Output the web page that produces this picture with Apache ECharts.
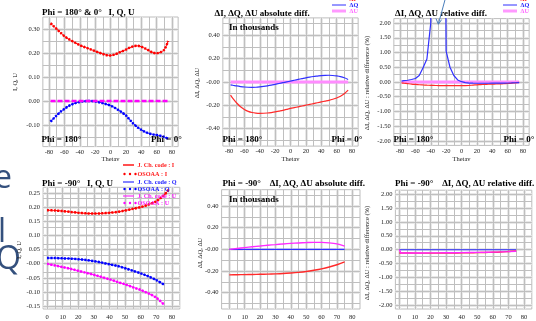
<!DOCTYPE html>
<html><head><meta charset="utf-8">
<script src="https://cdn.jsdelivr.net/npm/echarts@6/dist/echarts.min.js"></script>
<style>html,body{margin:0;padding:0;background:#fff;overflow:hidden}#c{width:536px;height:321px}</style>
</head><body><div id="c"></div>
<script>
// ---------- DATA ----------
// Phi = 180 & 0 (top row), thetav in degrees
const thetaTop = [-78,-75,-70,-65,-60,-55,-50,-45,-40,-35,-30,-25,-20,-15,-10,-5,0,5,10,15,20,25,30,35,40,45,50,55,60,65,70,75];
const I_top = [0.324,0.315,0.300,0.285,0.270,0.259,0.250,0.241,0.233,0.226,0.220,0.214,0.208,0.202,0.196,0.191,0.190,0.193,0.200,0.207,0.214,0.222,0.228,0.230,0.226,0.219,0.210,0.202,0.199,0.203,0.214,0.250];
const Q_top = [-0.086,-0.076,-0.060,-0.045,-0.033,-0.022,-0.014,-0.008,-0.004,-0.001,0.000,0.000,-0.002,-0.005,-0.009,-0.014,-0.019,-0.027,-0.037,-0.048,-0.060,-0.078,-0.095,-0.109,-0.120,-0.129,-0.135,-0.139,-0.142,-0.145,-0.150,-0.157];
const U_top = [0,0,0,0,0,0,0,0,0,0,0,0,0,0,0,0,0,0,0,0,0,0,0,0,0,0,0,0,0,0,0,0];
// absolute differences (in thousands)
const dI_top = [-0.112,-0.140,-0.180,-0.212,-0.235,-0.252,-0.262,-0.267,-0.269,-0.268,-0.266,-0.262,-0.257,-0.250,-0.243,-0.235,-0.227,-0.220,-0.213,-0.206,-0.199,-0.192,-0.185,-0.178,-0.171,-0.164,-0.157,-0.148,-0.137,-0.122,-0.100,-0.070];
const dQ_top = [-0.025,-0.028,-0.034,-0.039,-0.043,-0.045,-0.046,-0.045,-0.042,-0.038,-0.033,-0.027,-0.020,-0.013,-0.006,0.001,0.008,0.015,0.022,0.029,0.036,0.042,0.047,0.051,0.055,0.057,0.058,0.056,0.052,0.046,0.036,0.022];
const dU_top = [0,0,0,0,0,0,0,0,0,0,0,0,0,0,0,0,0,0,0,0,0,0,0,0,0,0,0,0,0,0,0,0];
// relative differences (%)
const rI_top = [-0.030,-0.040,-0.055,-0.070,-0.082,-0.093,-0.101,-0.108,-0.113,-0.117,-0.120,-0.122,-0.124,-0.125,-0.126,-0.126,-0.125,-0.121,-0.114,-0.105,-0.096,-0.088,-0.081,-0.076,-0.072,-0.068,-0.064,-0.058,-0.050,-0.040,-0.028,-0.015];
const rQ_top = [0.030,0.045,0.060,0.085,0.120,0.220,0.480,0.780,2.000,20.0,60.0,20.0,1.050,0.500,0.220,0.070,0.010,-0.020,-0.035,-0.040,-0.042,-0.043,-0.043,-0.042,-0.041,-0.040,-0.038,-0.036,-0.034,-0.030,-0.025,-0.020];
const rU_top = [0,0,0,0,0,0,0,0,0,0,0,0,0,0,0,0,0,0,0,0,0,0,0,0,0,0,0,0,0,0,0,0];

// Phi = -90 (bottom row)
const thetaBotI = [0,5,10,15,20,25,30,35,40,45,50,55,60,65,70,75,78];
const I_bot = [0.189,0.188,0.186,0.183,0.180,0.178,0.177,0.178,0.180,0.183,0.188,0.194,0.200,0.209,0.221,0.243,0.262];
const thetaBot = [0,5,10,15,20,25,30,35,40,45,50,55,60,65,70,75];
const Q_bot = [0.020,0.020,0.019,0.018,0.016,0.013,0.009,0.004,-0.002,-0.008,-0.016,-0.025,-0.034,-0.045,-0.058,-0.074];
const U_bot = [0.000,-0.006,-0.012,-0.018,-0.025,-0.032,-0.039,-0.047,-0.055,-0.064,-0.073,-0.083,-0.093,-0.105,-0.120,-0.145];
const dI_bot = [-0.235,-0.234,-0.233,-0.232,-0.230,-0.228,-0.226,-0.223,-0.218,-0.212,-0.204,-0.193,-0.180,-0.163,-0.142,-0.115];
const dQ_bot = [0,0,0,0,0,0,0,0,0,0,0,0,0,0,0,0];
const dU_bot = [0.000,0.008,0.016,0.024,0.031,0.038,0.044,0.050,0.055,0.059,0.062,0.064,0.064,0.060,0.050,0.030];
const rI_bot = [-0.125,-0.125,-0.126,-0.127,-0.127,-0.126,-0.125,-0.123,-0.120,-0.116,-0.111,-0.104,-0.096,-0.085,-0.068,-0.050];
const rQ_bot = [-0.005,-0.005,-0.005,-0.006,-0.006,-0.006,-0.006,-0.006,-0.006,-0.006,-0.006,-0.006,-0.005,-0.005,-0.005,-0.005];
const thetaBotU = [0,1,5,10,15,20,25,30,35,40,45,50,55,60,65,70,75];
const rU_bot = [0.000,-0.125,-0.124,-0.123,-0.122,-0.120,-0.118,-0.116,-0.113,-0.110,-0.106,-0.102,-0.097,-0.091,-0.084,-0.075,-0.062];

// tick / gridline values
const gxTopMajor = [-80,-60,-40,-20,0,20,40,60,80];
const gxTopMinor = [-70,-50,-30,-10,10,30,50,70];
const gxBotMajor = [0,10,20,30,40,50,60,70,80];
const gxBotMinor = [5,15,25,35,45,55,65,75];
const gyP1Major = [-0.1,0,0.1,0.2,0.3];
const gyP1Minor = [-0.15,-0.05,0.05,0.15,0.25];
const gyAbsMajor = [-0.4,-0.2,0,0.2,0.4];
const gyAbsMinor = [-0.5,-0.3,-0.1,0.1,0.3,0.5];
const gyRelMajor = [-2,-1.5,-1,-0.5,0,0.5,1,1.5,2];
const gyRelMinor = [-1.75,-1.25,-0.75,-0.25,0.25,0.75,1.25,1.75];
const gyP4Major = [-0.15,-0.1,-0.05,0,0.05,0.1,0.15,0.2,0.25];
const gyP4Minor = [-0.125,-0.075,-0.025,0.025,0.075,0.125,0.175,0.225];

// ---------- CHART ----------
const SERIF = '"Liberation Serif","Times New Roman",serif';
const chart = echarts.init(document.getElementById('c'), null, {renderer:'canvas'});
const pairs = (xs, ys) => xs.map((x, i) => [x, ys[i]]);

const grids = [
  {left:42.85, top:17,    width:135.3, height:129.6},
  {left:222.85,top:17.9,  width:135.3, height:128.2},
  {left:393.85,top:18.6,  width:135.3, height:126.8},
  {left:43.1,  top:187.3, width:136.7, height:129},
  {left:221.6, top:189.7, width:138.4, height:127.6},
  {left:395.4, top:190.2, width:136.4, height:125.6}
].map(g => Object.assign({show:true, borderColor:'#bdbdbd', borderWidth:1, backgroundColor:'#fff'}, g));

const lblStyle = {fontSize:6.5, fontFamily:SERIF, color:'#222'};
function xTop(i){ return {gridIndex:i, type:'value', min:-88, max:88, interval:2,
  axisLine:{show:false}, axisTick:{show:false}, splitLine:{show:false},
  axisLabel:Object.assign({margin:2, formatter:v=>{const r=Math.round(v);return (r%20===0&&Math.abs(r)<=80)?String(r):'';}}, lblStyle)}; }
function xBot(i, mn){ return {gridIndex:i, type:'value', min:mn, max:85, interval:2.5,
  axisLine:{show:false}, axisTick:{show:false}, splitLine:{show:false},
  axisLabel:Object.assign({margin:5, formatter:v=>{const r=Math.round(v*10);return (r%100===0&&r>=0&&r<=800)?String(r/10):'';}}, lblStyle)}; }
function yAx(i, mn, mx, itv, step, lo, hi, zero){ return {gridIndex:i, type:'value', min:mn, max:mx, interval:itv,
  axisLine:{show:false}, axisTick:{show:false}, splitLine:{show:false},
  axisLabel:Object.assign({margin:3, formatter:v=>{const r=Math.round(v*100);
    if(r%step!==0||r<lo||r>hi) return ''; return r===0?zero:(r/100).toFixed(2);}}, lblStyle)}; }

const xAxis = [xTop(0), xTop(1), xTop(2), xBot(3,-2.5), xBot(4,-5), xBot(5,-2.5)];
const yAxis = [
  yAx(0,-0.19,0.35,0.01,10,-10,30,'0.00'),
  yAx(1,-0.55,0.55,0.01,20,-40,40,'-0.00'),
  yAx(2,-2.15,2.15,0.05,50,-200,200,'0.00'),
  yAx(3,-0.16,0.27,0.01,5,-15,25,'-0.00'),
  yAx(4,-0.55,0.55,0.01,20,-40,40,'-0.00'),
  yAx(5,-2.15,2.15,0.05,50,-200,200,'0.00')
];

function gridSeries(i, xMaj, xMin, yMaj, yMin){
  const band = {color:'#e8e8e8', width:3, type:'solid'};
  const thin = {color:'#bfbfbf', width:1, type:'solid'};
  const d = [];
  xMaj.forEach(v=>d.push({xAxis:v, lineStyle:band}));
  yMaj.forEach(v=>d.push({yAxis:v, lineStyle:band}));
  xMaj.concat(xMin).forEach(v=>d.push({xAxis:v, lineStyle:thin}));
  yMaj.concat(yMin).forEach(v=>d.push({yAxis:v, lineStyle:thin}));
  return {type:'line', xAxisIndex:i, yAxisIndex:i, data:[], silent:true, z:1, animation:false,
    markLine:{silent:true, z:1, symbol:['none','none'], animation:false, label:{show:false},
      emphasis:{disabled:true}, data:d}};
}
function ln(i, xs, ys, color, width, type, smooth, z){
  return {type:'line', xAxisIndex:i, yAxisIndex:i, data:pairs(xs, ys), symbol:'none', showSymbol:false,
    smooth:smooth, silent:true, animation:false, z:z||3,
    lineStyle:{color:color, width:width, type:type||'solid', cap:'butt'}};
}
const DOT = [2,1.4], DASH = [5,2];
const RED='#ff0000', BLUE='#0000ff', MAG='#ff00ff';

const series = [
  gridSeries(0, gxTopMajor, gxTopMinor, gyP1Major, gyP1Minor),
  gridSeries(1, gxTopMajor, gxTopMinor, gyAbsMajor, gyAbsMinor),
  gridSeries(2, gxTopMajor, gxTopMinor, gyRelMajor, gyRelMinor),
  gridSeries(3, gxBotMajor, gxBotMinor, gyP4Major, gyP4Minor),
  gridSeries(4, gxBotMajor, gxBotMinor, gyAbsMajor, gyAbsMinor),
  gridSeries(5, gxBotMajor, gxBotMinor, gyRelMajor, gyRelMinor),
  // P1 : J. Ch. code (line) + OSOAA (dots)
  ln(0, thetaTop, I_top, RED, 1, 'solid', 0.3),
  ln(0, thetaTop, I_top, RED, 2.5, DOT, 0.3, 4),
  ln(0, thetaTop, Q_top, BLUE, 1, 'solid', 0.3),
  ln(0, thetaTop, Q_top, BLUE, 2.5, DOT, 0.3, 4),
  ln(0, thetaTop, U_top, MAG, 2.5, DASH, false, 4),
  // P2 absolute diff
  ln(1, thetaTop, dU_top, '#ff8cff', 3, 'solid', false),
  ln(1, thetaTop, dQ_top, '#3030ff', 1.2, 'solid', 0.3, 4),
  ln(1, thetaTop, dI_top, '#ff2a2a', 1.2, 'solid', 0.3, 4),
  // P3 relative diff
  ln(2, thetaTop, rU_top, '#ff8cff', 3, 'solid', false),
  ln(2, thetaTop, rI_top, '#ff2a2a', 1.2, 'solid', 0.3, 4),
  ln(2, thetaTop, rQ_top, '#3030ff', 1.2, 'solid', false, 4),
  // P4 Phi=-90 I,Q,U
  ln(3, thetaBotI, I_bot, RED, 1, 'solid', 0.3),
  ln(3, thetaBotI, I_bot, RED, 2.5, DOT, 0.3, 4),
  ln(3, thetaBot, Q_bot, BLUE, 1, 'solid', 0.3),
  ln(3, thetaBot, Q_bot, BLUE, 2.5, DOT, 0.3, 4),
  ln(3, thetaBot, U_bot, MAG, 1, 'solid', 0.3),
  ln(3, thetaBot, U_bot, MAG, 2.5, DOT, 0.3, 4),
  // P5 absolute diff
  ln(4, thetaBot, dQ_bot, '#3030ff', 1.2, 'solid', false),
  ln(4, thetaBot, dU_bot, '#ff2aff', 1.4, 'solid', 0.3, 4),
  ln(4, thetaBot, dI_bot, '#ff2a2a', 1.4, 'solid', 0.3, 4),
  // P6 relative diff
  ln(5, thetaBot, rQ_bot, '#3030ff', 1.2, 'solid', false),
  ln(5, thetaBot, rI_bot, '#ff2a2a', 1.4, 'solid', 0.3, 4),
  ln(5, thetaBotU, rU_bot, '#ff2aff', 1.4, 'solid', false, 5)
];

// ---------- TEXT / ANNOTATIONS ----------
const G = [];
function txt(x, y, s, font, fill, align, rot){
  const e = {type:'text', x:x, y:y, silent:true, z:100,
    style:{text:s, font:font, fill:fill||'#000', align:align||'left', textAlign:align||'left',
      verticalAlign:'middle', textVerticalAlign:'middle'}};
  if (rot) e.rotation = rot;
  G.push(e);
}
function seg(x1,y1,x2,y2,color,w){ G.push({type:'line', silent:true, z:100, shape:{x1,y1,x2,y2}, style:{stroke:color, lineWidth:w}}); }
function dot(x,y,color){ G.push({type:'circle', silent:true, z:100, shape:{cx:x, cy:y, r:1.2}, style:{fill:color}}); }

const TB = 'bold 9px ' + SERIF;
const SM = '6.5px ' + SERIF;
const LG = 'bold 6.2px ' + SERIF;
// slide background letters
txt(-6, 179, 'e', '32px "Open Sans"', '#34507d');
txt(-2, 233, 'l', '32px "Open Sans"', '#34507d');
txt(-4, 260, 'Q', '32px "Open Sans"', '#34507d');
// titles
txt(42, 13, 'Phi = 180° & 0°   I, Q, U', TB);
txt(214.5, 14, 'ΔI, ΔQ, ΔU absolute diff.', TB);
txt(395, 13.5, 'ΔI, ΔQ, ΔU relative diff.', TB);
txt(42, 184, 'Phi = -90°   I, Q, U', TB);
txt(222.5, 184, 'Phi = -90°    ΔI, ΔQ, ΔU absolute diff.', TB);
txt(395, 184, 'Phi = -90°    ΔI, ΔQ, ΔU relative diff.', TB);
txt(229, 28, 'In thousands', TB);
txt(229, 199.5, 'In thousands', TB);
// Phi labels inside top panels
[[41.5,151],[222.5,331.5],[393.5,503.5]].forEach(([a,b])=>{
  txt(a, 140, 'Phi = 180°', TB); txt(b, 140, 'Phi = 0°', TB);
});
// axis names
const R = Math.PI/2;
txt(15, 82, 'I, Q, U', SM, '#222', 'center', R);
txt(197, 83, 'ΔI, ΔQ, ΔU', SM, '#222', 'center', R);
txt(367, 83, 'ΔI, ΔQ, ΔU : relative difference (%)', SM, '#222', 'center', R);
txt(19, 250, 'I, Q, U', SM, '#222', 'center', R);
txt(200, 253, 'ΔI, ΔQ, ΔU', SM, '#222', 'center', R);
txt(367, 253, 'ΔI, ΔQ, ΔU : relative difference (%)', SM, '#222', 'center', R);
txt(110.5, 159, 'Thetav', SM, '#222', 'center');
txt(290.5, 159, 'Thetav', SM, '#222', 'center');
txt(461.5, 159, 'Thetav', SM, '#222', 'center');
// top legends
[[332,349.5],[503,520.5]].forEach(([lx,tx])=>{
  seg(lx,-1,lx+14,-1,'#ff3030',1); txt(tx,-1,'ΔI',LG,'#ff2020');
  seg(lx,5,lx+14,5,'#3030ff',1); txt(tx,5,'ΔQ',LG,'#2020ff');
  seg(lx,11,lx+14,11,'#ff99ff',3); txt(tx,11,'ΔU',LG,'#ff66ff');
});
// bottom-left legend
const legRows = [
  [165,'line','#ff5050','J. Ch. code : I','#ff2020'],
  [174,'dots',RED,'OSOAA : I','#ff2020'],
  [182,'line','#3030ff','J. Ch. code : Q','#2020ff'],
  [189,'dots',BLUE,'OSOAA : Q','#2020ff'],
  [196,'line','#ff30ff','J. Ch. code : U','#ff20ff'],
  [203,'dots',MAG,'OSOAA : U','#ff20ff']
];
legRows.forEach(([y,kind,c,s,tc])=>{
  if (kind==='line') seg(123,y,134,y,c,y===165?2:1.2);
  else { dot(124.5,y,c); dot(130,y,c); dot(135.5,y,c); }
  txt(137.5,y,s,LG,tc);
});
// arrow in relative-diff panel
G.push({type:'polyline', silent:true, z:100, shape:{points:[[445.5,-2],[438.4,24]]}, style:{stroke:'#4a7ebb', lineWidth:1, fill:null}});
G.push({type:'polyline', silent:true, z:100, shape:{points:[[436.0,18.6],[438.4,24.3],[441.6,19.6]]}, style:{stroke:'#4a7ebb', lineWidth:1, fill:null}});

chart.setOption({
  animation:false,
  backgroundColor:'#fff',
  grid:grids, xAxis:xAxis, yAxis:yAxis, series:series,
  graphic:{elements:G}
});
</script></body></html>
